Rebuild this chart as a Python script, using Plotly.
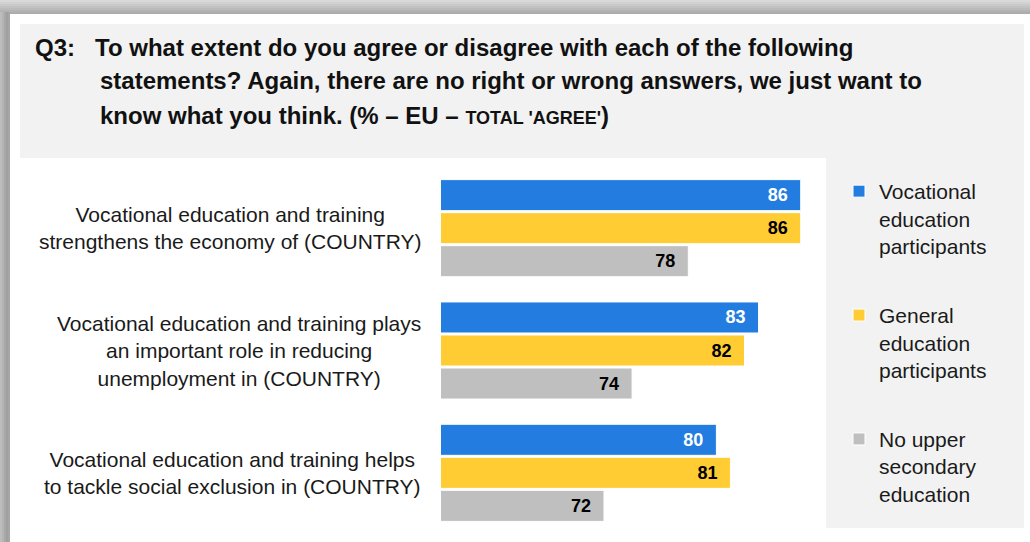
import plotly.graph_objects as go

W, H = 1030, 542

# ---- data ----
statements = [
    "Vocational education and training<br>strengthens the economy of (COUNTRY)",
    "Vocational education and training plays<br>an important role in reducing<br>unemployment in (COUNTRY)",
    "Vocational education and training helps<br>to tackle social exclusion in (COUNTRY)",
]
groups = [
    "Vocational<br>education<br>participants",
    "General<br>education<br>participants",
    "No upper<br>secondary<br>education",
]
vocational = [86, 83, 80]
general = [86, 82, 81]
no_upper = [78, 74, 72]
series = [vocational, general, no_upper]

colors = ["#237de0", "#ffcd33", "#bfbfbf"]
label_colors = ["white", "black", "black"]

title_lines = [
    "To what extent do you agree or disagree with each of the following",
    "statements? Again, there are no right or wrong answers, we just want to",
    "know what you think. (% \u2013 EU \u2013 <span style='font-size:18px'>TOTAL 'AGREE'</span>)",
]

FONT = "Arial, Liberation Sans, sans-serif"


def px(x):
    return x / W


def py(y):
    return 1 - y / H


fig = go.Figure()
for name, vals, col, lcol in zip(groups, series, colors, label_colors):
    fig.add_trace(go.Bar(
        y=statements, x=vals, orientation="h", name=name, legendgroup=name,
        marker=dict(color=col, line=dict(color="white", width=1)),
        texttemplate="<b>%{x}</b>\u00a0\u00a0",
        textposition="inside", insidetextanchor="end",
        insidetextfont=dict(family=FONT, size=18, color=lcol),
        hoverinfo="skip",
    ))

shapes = []
# header box and legend panel
shapes.append(dict(type="rect", xref="paper", yref="paper", layer="below",
                   x0=px(20), x1=px(1024), y0=py(158), y1=py(24),
                   fillcolor="#f2f2f2", line_width=0))
shapes.append(dict(type="rect", xref="paper", yref="paper", layer="below",
                   x0=px(826), x1=px(1024), y0=py(528), y1=py(158),
                   fillcolor="#f2f2f2", line_width=0))
# frame shading (top and left)
top_grays = ["#d9d9d9", "#d2d2d2", "#cacaca", "#c2c2c2", "#bbbbbb", "#b3b3b3", "#acacac"]
for i, g in enumerate(top_grays):
    shapes.append(dict(type="rect", xref="paper", yref="paper", layer="below",
                       x0=0, x1=1, y0=py(2 * i + 2), y1=py(2 * i),
                       fillcolor=g, line_width=0))
left_grays = ["#bdbdbd", "#b5b5b5", "#a8a8a8", "#a0a0a0", "#a6a6a6"]
for i, g in enumerate(left_grays):
    shapes.append(dict(type="rect", xref="paper", yref="paper", layer="below",
                       x0=px(2 * i), x1=px(2 * i + 2), y0=0, y1=py(12),
                       fillcolor=g, line_width=0))

annotations = []
title_font = dict(family=FONT, size=24, color="#111111")
annotations.append(dict(text="<b>Q3:</b>", xref="paper", yref="paper",
                        x=px(33), y=py(47), xanchor="left", yanchor="middle",
                        showarrow=False, font=title_font))
for i, (line, yy) in enumerate(zip(title_lines, [47, 81, 115])):
    annotations.append(dict(text="<b>" + line + "</b>", xref="paper", yref="paper",
                            x=px(93 if i == 0 else 98), y=py(yy),
                            xanchor="left", yanchor="middle",
                            showarrow=False, font=title_font))
for s in statements:
    annotations.append(dict(text=s, xref="paper", yref="y", x=px(423), y=s,
                            xanchor="right", yanchor="middle", align="center",
                            showarrow=False,
                            font=dict(family=FONT, size=21, color="#1a1a1a")))

fig.update_layout(
    width=W, height=H,
    margin=dict(l=0, r=0, t=0, b=0),
    paper_bgcolor="white", plot_bgcolor="white",
    barmode="group", bargap=0.19, bargroupgap=0.06,
    xaxis=dict(domain=[px(441), px(826)], range=[60.4, 87.8],
               showgrid=False, zeroline=False, showticklabels=False, fixedrange=True),
    yaxis=dict(domain=[py(534), py(167)], autorange="reversed",
               showgrid=False, showticklabels=False, fixedrange=True),
    showlegend=True,
    legend=dict(x=px(839), y=py(171), xanchor="left", yanchor="top",
                bgcolor="rgba(0,0,0,0)", valign="top", tracegroupgap=39,
                font=dict(family=FONT, size=21, color="#1a1a1a")),
    shapes=shapes,
    annotations=annotations,
)

fig.write_html("out.html", config={"displayModeBar": False},
               post_script="document.body.style.margin='0';")
